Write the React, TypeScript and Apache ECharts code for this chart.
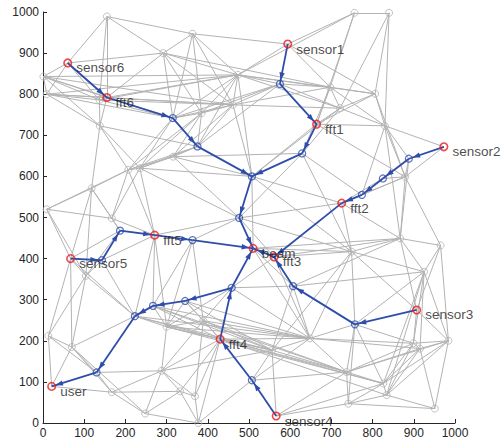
import React, { useEffect, useRef } from "react";
import * as echarts from "echarts";

// Labelled nodes (indices 0..13)
const labelNames = [
  "sensor6", "fft6", "sensor1", "fft1", "sensor2", "fft2", "fft5",
  "sensor5", "beam", "fft3", "sensor3", "fft4", "user", "sensor4",
];

// Node coordinates (data units)
const nodeX = [
  60, 155, 594, 664, 973, 725, 271, 67, 510, 561, 907, 430, 21, 566,
  315, 375, 507, 476, 575, 629, 888, 825, 774, 757, 607, 143, 187, 363, 458, 345, 267, 223, 130, 507,
  155, 363, 756, 840, 1, 9, 292, 137, 138, 473, 461, 385, 207, 235, 316, 118, 9, 167,
  697, 806, 721, 830, 879, 867, 749, 965, 925, 984, 648, 556, 737, 899, 915, 826, 834, 741, 951,
  13, 70, 104, 167, 248, 288, 333, 369, 377, 300, 389,
];
const nodeY = [
  876, 792, 922, 727, 672, 535, 457, 400, 425, 404, 275, 204, 89, 17,
  742, 673, 600, 499, 825, 656, 643, 595, 555, 240, 333, 396, 468, 445, 329, 297, 285, 260, 123, 104,
  989, 947, 998, 998, 843, 800, 900, 786, 723, 847, 774, 754, 616, 620, 648, 571, 520, 498,
  817, 801, 766, 723, 599, 449, 417, 432, 368, 200, 206, 177, 124, 194, 181, 96, 68, 47, 35,
  212, 185, 358, 75, 23, 127, 77, 65, 0, 234, 249,
];

const routeNodeIds = [14, 15, 16, 17, 18, 19, 20, 21, 22, 23, 24, 25, 26, 27, 28, 29, 30, 31, 32, 33];

const grayEdges = [
  [0, 38], [0, 39], [0, 34], [0, 1], [0, 40], [0, 41],
  [34, 40], [34, 1], [34, 35], [34, 41],
  [35, 40], [35, 43], [35, 44], [35, 45], [35, 14],
  [38, 39], [38, 1], [38, 41], [38, 43], [38, 14], [38, 42], [38, 44],
  [39, 41], [39, 42], [39, 1], [39, 14], [39, 44], [39, 43],
  [40, 43], [40, 14], [40, 44], [40, 1], [40, 45], [40, 52],
  [41, 42], [41, 14], [41, 1], [41, 43], [41, 44],
  [42, 1], [42, 46], [42, 47], [42, 49], [42, 15],
  [1, 43], [1, 44],
  [43, 44], [43, 14], [43, 45], [43, 18], [43, 52], [43, 53], [43, 2], [43, 54], [43, 15], [43, 36],
  [44, 45], [44, 14], [44, 15], [44, 18], [44, 54], [44, 52],
  [45, 14], [45, 15], [45, 48], [45, 47], [45, 46], [45, 18],
  [14, 46], [14, 47], [14, 18], [15, 48], [15, 46], [15, 47], [15, 18],
  [46, 47], [46, 48], [46, 49], [46, 51], [46, 50],
  [47, 48], [47, 51], [47, 16], [47, 17],
  [48, 16], [48, 17], [48, 19], [48, 44], [16, 44], [16, 43],
  [2, 36], [2, 35], [2, 52], [2, 53],
  [36, 37], [36, 52], [36, 3],
  [37, 53], [37, 55], [37, 54],
  [18, 52], [18, 54],
  [52, 53], [52, 54], [52, 3], [52, 55], [52, 19],
  [53, 54], [53, 55], [53, 3], [53, 56],
  [54, 55], [54, 3], [54, 19], [54, 16],
  [55, 3], [55, 4], [55, 56], [55, 20], [55, 57], [55, 22],
  [3, 16], [3, 56],
  [19, 17], [19, 22], [19, 58],
  [4, 56], [20, 56], [20, 57], [21, 56], [21, 5], [22, 56],
  [56, 57], [56, 59], [56, 5],
  [5, 58], [5, 57], [5, 17], [5, 16],
  [16, 8], [16, 58], [17, 58],
  [17, 27], [17, 6], [17, 9],
  [6, 26], [6, 51], [6, 25], [6, 47], [6, 46], [6, 30], [6, 31], [6, 80],
  [26, 51], [26, 7], [26, 49], [26, 73],
  [25, 73], [25, 31],
  [7, 73], [7, 50], [7, 49], [7, 31], [7, 71], [7, 72],
  [49, 50], [49, 51], [49, 73], [50, 51], [50, 73],
  [27, 30], [27, 81], [27, 80],
  [8, 24], [8, 58], [8, 62], [8, 57],
  [9, 58], [9, 28], [9, 57], [9, 62],
  [57, 58], [57, 59], [57, 60], [57, 10], [57, 24],
  [58, 23], [58, 60], [58, 10], [58, 62], [58, 63],
  [59, 60], [59, 61], [59, 10],
  [60, 61], [60, 65], [60, 66], [60, 67], [60, 68], [60, 24], [60, 23],
  [10, 61], [10, 65],
  [61, 65], [61, 66], [61, 70], [61, 67], [61, 68], [61, 64],
  [23, 62], [23, 64], [23, 65], [23, 67], [23, 69],
  [24, 62], [24, 28], [24, 63],
  [62, 63], [62, 64], [62, 33], [62, 11], [62, 28], [62, 65], [62, 66],
  [63, 33], [63, 11], [63, 13], [63, 64],
  [64, 13], [64, 67], [64, 69], [64, 66], [64, 65],
  [65, 66], [65, 67], [65, 68],
  [66, 68], [66, 67], [66, 70],
  [67, 68], [67, 69], [67, 13],
  [68, 69], [68, 70], [69, 13], [69, 70],
  [28, 81], [28, 80],
  [29, 81], [29, 11], [29, 80], [29, 62], [29, 63],
  [30, 80], [30, 11], [30, 63], [30, 62], [30, 64],
  [31, 11], [31, 63], [31, 73], [31, 80], [31, 72], [31, 62],
  [32, 72], [32, 74], [32, 76], [32, 71],
  [12, 71], [12, 72], [12, 74],
  [71, 72], [71, 73], [72, 74], [72, 75], [72, 73],
  [74, 75], [74, 76], [74, 77],
  [75, 76], [75, 77], [75, 79],
  [76, 77], [76, 78], [76, 11], [76, 80], [76, 81], [76, 63],
  [77, 78], [77, 79], [77, 11],
  [78, 79], [78, 11], [78, 81],
  [79, 11], [79, 33],
  [11, 80], [11, 81], [11, 64], [11, 67], [11, 68], [33, 64],
  [80, 81], [81, 64], [80, 67], [80, 63], [80, 62], [81, 62], [81, 63],
];

const routeEdges = [
  [0, 1], [1, 14], [14, 15], [15, 16], [16, 17], [17, 8],
  [2, 18], [18, 3], [3, 19], [19, 16],
  [4, 20], [20, 21], [21, 22], [22, 5], [5, 9], [9, 8],
  [10, 23], [23, 24], [24, 9],
  [7, 25], [25, 26], [26, 6], [6, 27], [27, 8],
  [13, 33], [33, 11], [11, 28], [28, 8],
  [28, 29], [29, 30], [30, 31], [31, 32], [32, 12],
];

const GRAY = "#b3b3b3";
const BLUE = "#2e4dab";
const RED = "#ee1c1c";
const AXIS = "#262626";
const FONT = "'Liberation Sans', Arial, Helvetica, sans-serif";

export default function App() {
  const ref = useRef<HTMLDivElement>(null);
  useEffect(() => {
    if (!ref.current) return;
    const chart = echarts.init(ref.current, undefined, { renderer: "svg" });
    const labelled = labelNames.map((name, i) => ({ name, value: [nodeX[i], nodeY[i]] }));
    const routeSet = new Set(routeNodeIds);
    const grayNodes: number[][] = [];
    for (let i = labelNames.length; i < nodeX.length; i++) {
      if (!routeSet.has(i)) grayNodes.push([nodeX[i], nodeY[i]]);
    }
    const axisCommon = {
      type: "value" as const,
      min: 0,
      max: 1000,
      interval: 100,
      splitLine: { show: false },
      axisLine: { show: true, onZero: false, lineStyle: { color: AXIS, width: 1 } },
      axisTick: { show: true, inside: true, length: 4, lineStyle: { color: AXIS } },
      axisLabel: {
        color: AXIS,
        fontSize: 12,
        fontFamily: FONT,
        margin: 4,
        formatter: (v: number) => String(v),
      },
    };
    chart.setOption({
      animation: false,
      grid: { left: 43, right: 49, top: 12, bottom: 18, containLabel: false },
      xAxis: { ...axisCommon },
      yAxis: { ...axisCommon },
      series: [
        {
          type: "lines",
          coordinateSystem: "cartesian2d",
          silent: true,
          z: 1,
          lineStyle: { color: GRAY, width: 1, opacity: 1 },
          data: grayEdges.map(([a, b]) => ({
            coords: [[nodeX[a], nodeY[a]], [nodeX[b], nodeY[b]]],
          })),
        },
        {
          type: "scatter",
          silent: true,
          z: 2,
          symbol: "circle",
          symbolSize: 7,
          itemStyle: { color: "rgba(0,0,0,0)", borderColor: GRAY, borderWidth: 1 },
          data: grayNodes,
        },
        {
          type: "custom",
          silent: true,
          z: 3,
          encode: { x: [0, 2], y: [1, 3] },
          data: routeEdges.map(([a, b]) => [nodeX[a], nodeY[a], nodeX[b], nodeY[b]]),
          renderItem: (params: any, api: any) => {
            const p1 = api.coord([api.value(0), api.value(1)]);
            const p2 = api.coord([api.value(2), api.value(3)]);
            const dx = p2[0] - p1[0];
            const dy = p2[1] - p1[1];
            const len = Math.hypot(dx, dy) || 1;
            const ux = dx / len;
            const uy = dy / len;
            const tipX = p2[0] - ux * 4;
            const tipY = p2[1] - uy * 4;
            const bx = tipX - ux * 7.5;
            const by = tipY - uy * 7.5;
            const nx = -uy;
            const ny = ux;
            const w = 2.7;
            return {
              type: "group",
              children: [
                {
                  type: "line",
                  shape: { x1: p1[0], y1: p1[1], x2: p2[0], y2: p2[1] },
                  style: { stroke: BLUE, lineWidth: 1.8 },
                },
                {
                  type: "polygon",
                  shape: {
                    points: [
                      [tipX, tipY],
                      [bx + nx * w, by + ny * w],
                      [bx - nx * w, by - ny * w],
                    ],
                  },
                  style: { fill: BLUE },
                },
              ],
            };
          },
        },
        {
          type: "scatter",
          silent: true,
          z: 4,
          symbol: "circle",
          symbolSize: 7,
          itemStyle: { color: "rgba(0,0,0,0)", borderColor: BLUE, borderWidth: 1.2 },
          data: routeNodeIds.map((i) => [nodeX[i], nodeY[i]]),
        },
        {
          type: "scatter",
          silent: true,
          z: 5,
          symbol: "circle",
          symbolSize: 7.5,
          itemStyle: { color: "rgba(0,0,0,0)", borderColor: RED, borderWidth: 1.6 },
          label: {
            show: true,
            position: "right",
            distance: 4,
            offset: [0, 5],
            formatter: "{b}",
            color: "#1a1a1a",
            fontSize: 13.5,
            fontFamily: FONT,
          },
          data: labelled,
        },
      ],
    });
    return () => chart.dispose();
  }, []);
  return (
    <div
      ref={ref}
      style={{ position: "absolute", left: 0, top: 0, width: 504, height: 441, background: "#fff" }}
    />
  );
}
